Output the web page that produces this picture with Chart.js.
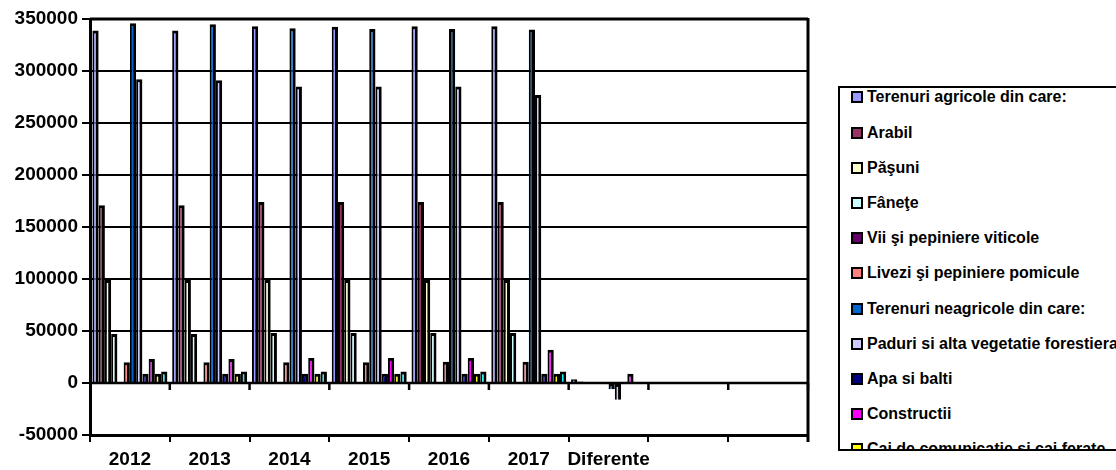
<!DOCTYPE html>
<html>
<head>
<meta charset="utf-8">
<script src="https://cdn.jsdelivr.net/npm/chart.js@4"></script>
<style>
  body { margin: 0; background: #fff; overflow: hidden; }
  #wrap { position: relative; width: 1116px; height: 470px; }
  #legend {
    position: absolute; left: 838px; top: 86px; width: 300px; height: 361px;
    border: 2px solid #000; overflow: hidden; background: #fff;
    font: bold 16px "Liberation Sans", Arial, sans-serif; color: #000;
  }
  #legend .row { height: 35.2px; line-height: 35.2px; white-space: nowrap; position: relative; padding-left: 27px; }
  #legend .box { position: absolute; left: 11px; top: 12px; width: 8px; height: 8px; border: 2px solid #000; }
  #legend .inner { margin-top: -8.6px; }
</style>
</head>
<body>
<div id="wrap">
  <canvas id="barChart" width="1116" height="470"></canvas>
  <div id="legend"><div class="inner" id="legendInner"></div></div>
</div>
<script>
// categories (last two are empty slots on the axis)
var categories = ["2012", "2013", "2014", "2015", "2016", "2017", "Diferente", "", ""];

var seriesNames = [
  "Terenuri agricole din care:",
  "Arabil",
  "Păşuni",
  "Fâneţe",
  "Vii şi pepiniere viticole",
  "Livezi şi pepiniere pomicule",
  "Terenuri neagricole din care:",
  "Paduri si alta vegetatie forestiera",
  "Apa si balti",
  "Constructii",
  "Cai de comunicatie si cai ferate",
  "Terenuri degradate si neproductive"
];

var seriesColors = ['#9999FF', '#993366', '#FFFFCC', '#CCFFFF', '#660066', '#FF8080',
                    '#0066CC', '#CCCCFF', '#000080', '#FF00FF', '#FFFF00', '#00FFFF'];

var agricole    = [339000, 339000, 343000, 342500, 343000, 343000, 3500];
var arabil      = [171000, 171000, 174000, 174000, 174000, 174000, 1500];
var pasuni      = [99000, 99000, 99000, 99000, 99000, 99000, -1000];
var fanete      = [47000, 47000, 48000, 48000, 48000, 48000, 1000];
var vii         = [800, 800, 800, 800, 800, 800, 0];
var livezi      = [20000, 20000, 20000, 20000, 20500, 20500, 500];
var neagricole  = [346000, 345000, 341000, 340500, 340500, 340000, -6000];
var paduri      = [292000, 291000, 285000, 285000, 285000, 277000, -16000];
var apa         = [9000, 9000, 9000, 9000, 9000, 9000, 0];
var constructii = [23000, 23000, 24000, 24000, 24000, 32000, 9000];
var cai         = [9000, 9000, 9000, 9000, 9000, 9000, 0];
var degradate   = [11000, 11000, 11000, 11000, 11000, 11000, 500];

var seriesValues = [agricole, arabil, pasuni, fanete, vii, livezi, neagricole,
                    paduri, apa, constructii, cai, degradate];

var yTicks = { min: -50000, max: 350000, step: 50000 };

var datasets = seriesNames.map(function (name, i) {
  return {
    label: name,
    data: seriesValues[i],
    backgroundColor: seriesColors[i],
    borderColor: '#000',
    borderWidth: { left: 2, top: 3, right: 3, bottom: 0 },
    borderSkipped: false,
    categoryPercentage: 0.94,
    barPercentage: 1.0
  };
});

// extra lines: right wall and little ticks on the zero line
var wallPlugin = {
  id: 'wall',
  afterDraw: function (chart) {
    var c = chart.ctx, a = chart.chartArea;
    var xs = chart.scales.x, ys = chart.scales.y;
    c.save();
    c.strokeStyle = '#000';
    c.lineWidth = 3;
    c.beginPath();
    c.moveTo(a.right, a.top - 1);
    c.lineTo(a.right, a.bottom + 7);
    c.moveTo(a.left, a.top);
    c.lineTo(a.right, a.top);
    c.stroke();
    var y0 = ys.getPixelForValue(0);
    var w = (xs.right - xs.left) / categories.length;
    c.lineWidth = 2.5;
    c.beginPath();
    c.moveTo(a.left, y0);
    c.lineTo(a.right, y0);
    for (var k = 1; k <= categories.length; k++) {
      c.moveTo(xs.left + k * w, y0);
      c.lineTo(xs.left + k * w, y0 + 7);
    }
    c.stroke();
    c.restore();
  }
};

var ctx = document.getElementById("barChart").getContext('2d');
var myBarChart = new Chart(ctx, {
  type: 'bar',
  data: { labels: categories, datasets: datasets },
  options: {
    responsive: false,
    animation: false,
    layout: { padding: { left: 0, right: 308, top: 19, bottom: 0 } },
    plugins: { legend: { display: false }, tooltip: { enabled: false } },
    scales: {
      x: {
        offset: true,
        grid: { offset: true, drawOnChartArea: false, color: '#000', lineWidth: 2, tickLength: 7 },
        border: { color: '#000', width: 3 },
        ticks: {
          color: '#000', padding: 6, maxRotation: 0, autoSkip: false,
          font: { family: '"Liberation Sans", Arial, sans-serif', size: 19, weight: 'bold' }
        },
        afterFit: function (s) { s.height = 35; }
      },
      y: {
        min: yTicks.min, max: yTicks.max,
        grid: { color: '#000', lineWidth: 2, tickLength: 8 },
        border: { color: '#000', width: 3 },
        ticks: {
          stepSize: yTicks.step, color: '#000', padding: 4,
          callback: function (v) { return String(v); },
          font: { family: '"Liberation Sans", Arial, sans-serif', size: 19, weight: 'bold' }
        },
        afterFit: function (s) { s.width = 90; }
      }
    }
  },
  plugins: [wallPlugin]
});

// legend from the same series arrays
var legendEl = document.getElementById('legendInner');
seriesNames.forEach(function (name, i) {
  var row = document.createElement('div');
  row.className = 'row';
  var box = document.createElement('span');
  box.className = 'box';
  box.style.background = seriesColors[i];
  row.appendChild(box);
  row.appendChild(document.createTextNode(name));
  legendEl.appendChild(row);
});
</script>
</body>
</html>
